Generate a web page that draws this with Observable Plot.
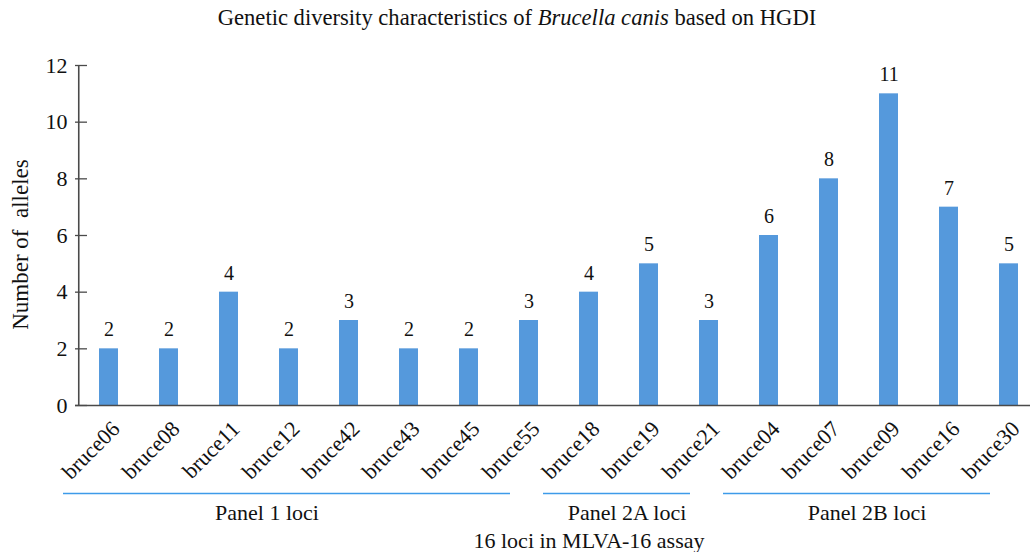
<!DOCTYPE html>
<html>
<head>
<meta charset="utf-8">
<script src="https://cdn.jsdelivr.net/npm/d3@7"></script>
<script src="https://cdn.jsdelivr.net/npm/@observablehq/plot@0.6"></script>
<style>
  html, body { margin: 0; padding: 0; background: #fff; }
  body { width: 1034px; height: 552px; overflow: hidden; font-family: "Liberation Serif", serif; }
  #title { height: 40px; line-height: 36px; text-align: center; font-size: 22.6px; color: #111; }
  svg { display: block; }
</style>
</head>
<body>
<div id="title">Genetic diversity characteristics of <i>Brucella canis</i> based on HGDI</div>
<div id="chart"></div>
<script>
const loci = ["bruce06","bruce08","bruce11","bruce12","bruce42","bruce43","bruce45","bruce55",
              "bruce18","bruce19","bruce21",
              "bruce04","bruce07","bruce09","bruce16","bruce30"];
const alleles = [2,2,4,2,3,2,2,3, 4,5,3, 6,8,11,7,5];
const yTicks = [0,2,4,6,8,10,12];
const panelNames = ["Panel 1 loci","Panel 2A loci","Panel 2B loci"];
const panelFirst = ["bruce06","bruce18","bruce04"];
const panelLast  = ["bruce55","bruce21","bruce30"];
const panelMid   = ["bruce12","bruce19","bruce09"];
const axisTitle = "Number of  alleles";
const caption = "16 loci in MLVA-16 assay";

const data = loci.map((l, i) => ({locus: l, n: alleles[i]}));
const panels = panelNames.map((p, i) => ({name: p, first: panelFirst[i], last: panelLast[i], mid: panelMid[i]}));

const font = "Liberation Serif";
const fs = 22;
const blue = "#5599dc";
const axisColor = "#4a4a4a";
const W = 1034, ML = 75;
const xRange = [74.75, 1042.75];
const step = (xRange[1] - xRange[0]) / loci.length;

const plot = Plot.plot({
  width: W,
  height: 512,
  marginTop: 25,
  marginLeft: ML,
  marginRight: 0,
  marginBottom: 147,
  style: {fontFamily: font, fontSize: fs + "px", color: "#111", background: "#fff"},
  x: {domain: loci, range: xRange, paddingInner: 0.686, paddingOuter: 0.343, label: null},
  y: {domain: [0, 12], ticks: yTicks, label: null},
  marks: [
    Plot.barY(data, {x: "locus", y: "n", fill: blue}),
    Plot.text(data, {x: "locus", y: "n", text: d => String(d.n), dy: -19, fontSize: 20}),
    Plot.ruleY([0], {stroke: axisColor, strokeWidth: 1.6, insetRight: 4}),
    Plot.ruleY(yTicks, {stroke: axisColor, strokeWidth: 1.3, insetRight: W - ML - 12}),
    Plot.ruleX([loci[0]], {x: d => d, y1: 0, y2: 12, dx: -step / 2, stroke: axisColor, strokeWidth: 1.6}),
    Plot.axisY({ticks: yTicks, tickSize: 0, tickPadding: 8, fontSize: fs, label: null, fill: "#111"}),
    Plot.text([axisTitle], {frameAnchor: "left", textAnchor: "middle", text: d => d, rotate: -90, dx: -55, dy: 9, fontSize: 23}),
    Plot.axisX({tickSize: 0, tickRotate: -45, fontSize: 22, label: null, dx: 7, dy: 8, fill: "#111"}),
    Plot.ruleY(panels, {y: () => 0, x1: "first", x2: "last", stroke: "#3d9be9", strokeWidth: 1.5,
      insetLeft: -36, insetRight: 28, dy: 88}),
    Plot.text(panels, {x: "mid", y: () => 0, text: "name", dx: -22, dy: 107, fontSize: fs}),
    Plot.text([caption], {frameAnchor: "bottom", text: d => d, dx: 34, dy: 142, fontSize: fs})
  ]
});
document.getElementById("chart").appendChild(plot);
</script>
</body>
</html>
